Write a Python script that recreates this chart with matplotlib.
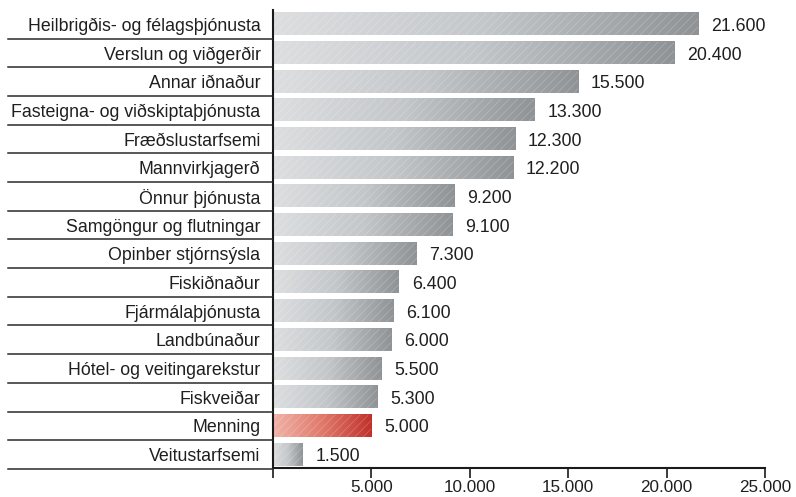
import matplotlib
matplotlib.use("Agg")
import matplotlib.pyplot as plt
import numpy as np
from matplotlib.colors import LinearSegmentedColormap
from matplotlib.lines import Line2D

plt.rcParams['font.family'] = ['Liberation Sans', 'DejaVu Sans']
plt.rcParams['hatch.linewidth'] = 0.5

categories = ["Heilbrigðis- og félagsþjónusta", "Verslun og viðgerðir", "Annar iðnaður",
              "Fasteigna- og viðskiptaþjónusta", "Fræðslustarfsemi", "Mannvirkjagerð",
              "Önnur þjónusta", "Samgöngur og flutningar", "Opinber stjórnsýsla",
              "Fiskiðnaður", "Fjármálaþjónusta", "Landbúnaður", "Hótel- og veitingarekstur",
              "Fiskveiðar", "Menning", "Veitustarfsemi"]
values = [21600, 20400, 15500, 13300, 12300, 12200, 9200, 9100, 7300,
          6400, 6100, 6000, 5500, 5300, 5000, 1500]
highlight = "Menning"
xticks = [5000, 10000, 15000, 20000, 25000]

def fmt(v):
    return f"{v:,.0f}".replace(",", ".")

FS = 12.8
TC = '#1f1f1f'

fig = plt.figure(figsize=(7.96, 4.97), dpi=100)
ax = fig.add_axes([273/796, 1-468/497, (765-273)/796, (468-10)/497])

gray_cmap = LinearSegmentedColormap.from_list("g", ["#dcdee0", "#c4c7ca", "#8f9396"])
red_cmap = LinearSegmentedColormap.from_list("r", ["#f1b3a8", "#e0796b", "#c0312b"])
grad = np.linspace(0, 1, 256).reshape(1, -1)

h = 0.77
ys = np.arange(len(categories))
for y, cat, v in zip(ys, categories, values):
    cmap = red_cmap if cat == highlight else gray_cmap
    ax.imshow(grad, cmap=cmap, extent=[0, v, y + h/2, y - h/2], aspect='auto',
              interpolation='bilinear', zorder=1)
    ax.barh(y, v, height=h, facecolor='none', hatch='////',
            edgecolor=(1, 1, 1, 0.25), linewidth=0, zorder=2)
    ax.text(v + 650, y + 0.07, fmt(v), va='center', ha='left', fontsize=FS, color=TC)

ax.set_xlim(0, 25000)
ax.set_ylim(len(categories) - 1 + 0.47, -0.5)
ax.set_yticks(ys)
ax.set_yticklabels(categories, fontsize=FS, color=TC)
ax.tick_params(axis='y', length=0, pad=9)
ax.set_xticks([0] + xticks)
ax.set_xticklabels([""] + [fmt(t) for t in xticks], fontsize=12.3, color=TC)
ax.tick_params(axis='x', length=7, width=1.2, direction='out', pad=1.5, color='#1a1a1a')
for s in ['top', 'right']:
    ax.spines[s].set_visible(False)
for s in ['left', 'bottom']:
    ax.spines[s].set_linewidth(1.5)
    ax.spines[s].set_color('#1a1a1a')

# separator lines in label area
x0 = 8/796
x1 = 272/796
fig.canvas.draw()
for y in ys:
    yb = y + 0.5
    _, yd = ax.transData.transform((0, yb))
    yf = yd / fig.bbox.height
    fig.add_artist(Line2D([x0, x1], [yf, yf], transform=fig.transFigure,
                          color='#2a2a2a', linewidth=1.1))

fig.savefig("out.png", dpi=100)
